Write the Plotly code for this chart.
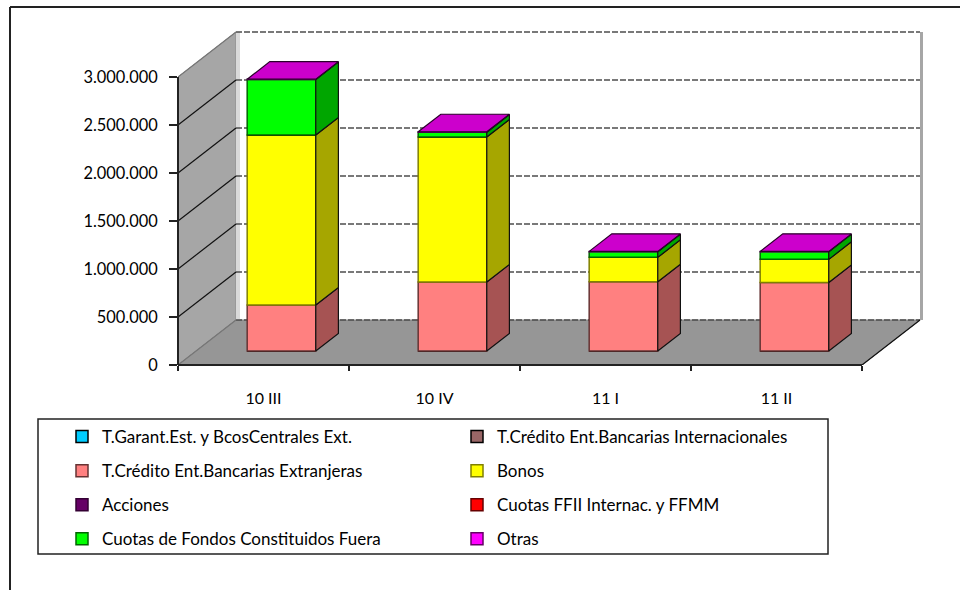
import plotly.graph_objects as go

categories = ["10 III", "10 IV", "11 I", "11 II"]
garant = [0, 0, 0, 0]
credito_int = [0, 0, 0, 0]
credito_ext = [480000, 720000, 722000, 715000]
bonos = [1770000, 1510000, 254000, 240000]
acciones = [0, 0, 0, 0]
cuotas_ffii = [0, 0, 0, 0]
cuotas_fuera = [578000, 50000, 58000, 79000]
otras = [4000, 4000, 4000, 4000]

series_names = [
    "T.Garant.Est. y BcosCentrales Ext.", "T.Crédito Ent.Bancarias Internacionales",
    "T.Crédito Ent.Bancarias Extranjeras", "Bonos", "Acciones",
    "Cuotas FFII Internac. y FFMM", "Cuotas de Fondos Constituidos Fuera", "Otras",
]
series_values = [garant, credito_int, credito_ext, bonos, acciones, cuotas_ffii, cuotas_fuera, otras]
series_colors = ["#00CCFF", "#996666", "#FF8080", "#FFFF00", "#660066", "#FF0000", "#00FF00", "#FF00FF"]
edge_colors = ["#000000", "#000000", "#663333", "#808000", "#330033", "#660000", "#006600", "#660066"]
side_colors = ["#0085A6", "#634242", "#A65353", "#A6A600", "#420042", "#A60000", "#00A600", "#A600A6"]

y_tick_vals = [0, 500000, 1000000, 1500000, 2000000, 2500000, 3000000]
y_tick_text = ["0", "500.000", "1.000.000", "1.500.000", "2.000.000", "2.500.000", "3.000.000"]

FONT = "Lato"
PL, PR, PT, PB = 178, 925, 30, 365      # plot box in px
SLOT = 171.0                            # px per category
UNIT = 48.0 / 500000                    # px per value unit
XMAX = (PR - PL) / SLOT
YMAX = (PB - PT) / UNIT
DX = 58.0 / SLOT                        # floor depth, in x units
DY = 45.0 / UNIT                        # floor depth, in y units
F_FRONT, F_BACK = 0.31, 0.70            # bar depth as fraction of the floor depth
BAR_W = 68.6 / SLOT
N = len(categories)
VMAX = y_tick_vals[-1]


def px_x(p):
    return (p - PL) / (PR - PL)


def px_y(p):
    return (PB - p) / (PB - PT)


def path(pts):
    return "M " + " L ".join(f"{a},{b}" for a, b in pts) + " Z"


fig = go.Figure()
shapes = []

# left wall, floor, back-wall edges
shapes.append(dict(type="path", layer="below", xref="x", yref="y", line=dict(color="#8C8C8C", width=1),
                   fillcolor="#A6A6A6", path=path([(0, 0), (DX, DY), (DX, VMAX + DY), (0, VMAX)])))
shapes.append(dict(type="path", layer="below", xref="x", yref="y", line=dict(color="#808080", width=1),
                   fillcolor="#969696", path=path([(0, 0), (N, 0), (N + DX, DY), (DX, DY)])))
shapes.append(dict(type="rect", layer="below", xref="x", yref="y", line=dict(width=0), fillcolor="#DADADA",
                   x0=DX, x1=DX + 4 / SLOT, y0=DY, y1=VMAX + DY))
shapes.append(dict(type="rect", layer="below", xref="x", yref="y", line=dict(width=0), fillcolor="#A6A6A6",
                   x0=N + DX, x1=N + DX + 3 / SLOT, y0=DY, y1=VMAX + DY))
# gridlines
for v in y_tick_vals:
    shapes.append(dict(type="line", layer="below", xref="x", yref="y", x0=DX, x1=N + DX, y0=v + DY, y1=v + DY,
                       line=dict(color="#4D4D4D", width=1.3, dash="6px,2px")))
    edge = v in (0, VMAX)
    shapes.append(dict(type="line", layer="below", xref="x", yref="y", x0=0, x1=DX, y0=v, y1=v + DY,
                       line=dict(color="#777777" if edge else "#111111", width=1.2)))
shapes.append(dict(type="line", layer="below", xref="x", yref="y", x0=N, x1=N + DX, y0=0, y1=DY,
                   line=dict(color="#111111", width=1.2)))
# front axis lines
shapes.append(dict(type="line", xref="paper", yref="paper", x0=0, x1=N / XMAX, y0=0, y1=0,
                   line=dict(color="#222222", width=2)))
shapes.append(dict(type="line", xref="paper", yref="paper", x0=0, x1=0, y0=0, y1=VMAX / YMAX,
                   line=dict(color="#222222", width=2)))
# outer frame and legend box
shapes.append(dict(type="line", xref="paper", yref="paper", x0=px_x(10), x1=px_x(960), y0=px_y(7), y1=px_y(7),
                   line=dict(color="#222222", width=2)))
shapes.append(dict(type="line", xref="paper", yref="paper", x0=px_x(10), x1=px_x(10), y0=px_y(7), y1=px_y(590),
                   line=dict(color="#222222", width=2)))
shapes.append(dict(type="rect", xref="paper", yref="paper", x0=px_x(38), x1=px_x(828), y0=px_y(419), y1=px_y(554),
                   line=dict(color="#222222", width=1.5), fillcolor="rgba(0,0,0,0)"))

# bars (front faces)
cum = [0.0] * N
for k, (name, vals) in enumerate(zip(series_names, series_values)):
    fig.add_trace(go.Bar(
        x=[i + 0.5 + F_FRONT * DX for i in range(N)],
        y=vals,
        base=[c + F_FRONT * DY for c in cum],
        width=BAR_W,
        name=name,
        marker=dict(color=series_colors[k], line=dict(color=edge_colors[k], width=1.5)),
        legend="legend" if k % 2 == 0 else "legend2",
        legendgroup=f"g{k}",
        hoverinfo="name+y",
    ))
    # right side faces
    for i in range(N):
        if vals[i] <= 0:
            continue
        xr = i + 0.5 + BAR_W / 2
        a = cum[i]
        b = cum[i] + vals[i]
        xs = [xr + F_FRONT * DX, xr + F_BACK * DX, xr + F_BACK * DX, xr + F_FRONT * DX, xr + F_FRONT * DX]
        ys = [a + F_FRONT * DY, a + F_BACK * DY, b + F_BACK * DY, b + F_FRONT * DY, a + F_FRONT * DY]
        fig.add_trace(go.Scatter(x=xs, y=ys, mode="lines", fill="toself", fillcolor=side_colors[k],
                                 line=dict(color="#111111", width=1.2), showlegend=False, hoverinfo="skip"))
    cum = [c + v for c, v in zip(cum, vals)]

# top faces
for i in range(N):
    xl = i + 0.5 - BAR_W / 2
    xr = i + 0.5 + BAR_W / 2
    t = cum[i]
    xs = [xl + F_FRONT * DX, xr + F_FRONT * DX, xr + F_BACK * DX, xl + F_BACK * DX, xl + F_FRONT * DX]
    ys = [t + F_FRONT * DY, t + F_FRONT * DY, t + F_BACK * DY, t + F_BACK * DY, t + F_FRONT * DY]
    fig.add_trace(go.Scatter(x=xs, y=ys, mode="lines", fill="toself", fillcolor="#CC00CC",
                             line=dict(color="#2A002A", width=1.2), showlegend=False, hoverinfo="skip"))

legend_common = dict(
    orientation="v", xanchor="left", yanchor="top", bgcolor="rgba(0,0,0,0)", borderwidth=0,
    tracegroupgap=9, font=dict(family=FONT, size=17, color="#000000"), traceorder="grouped",
)

fig.update_layout(
    width=960, height=590,
    margin=dict(l=PL, r=960 - PR, t=PT, b=590 - PB, autoexpand=False),
    paper_bgcolor="white", plot_bgcolor="white",
    barmode="overlay",
    showlegend=True,
    font=dict(family=FONT, color="#000000"),
    xaxis=dict(range=[0, XMAX], tickmode="array", tickvals=[i + 0.5 for i in range(N)], ticktext=categories,
               ticks="", showgrid=False, zeroline=False, showline=False, tickfont=dict(size=16, family=FONT),
               ticklabelstandoff=22,
               minor=dict(tickmode="array", tickvals=list(range(N + 1)), ticks="outside", ticklen=5,
                          tickwidth=1.5, tickcolor="#222222", showgrid=False)),
    yaxis=dict(range=[0, YMAX], tickmode="array", tickvals=y_tick_vals, ticktext=y_tick_text,
               ticks="outside", ticklen=8, tickwidth=1.5, tickcolor="#222222", showgrid=False, zeroline=False,
               showline=False, tickfont=dict(size=16.4, family=FONT), ticklabelstandoff=8),
    shapes=shapes,
    legend=dict(x=px_x(62), y=px_y(419), **legend_common),
    legend2=dict(x=px_x(457), y=px_y(419), **legend_common),
)

fig.write_html("out.html", config={"displayModeBar": False},
               post_script="document.body.style.margin='0';document.documentElement.style.overflow='hidden';")
